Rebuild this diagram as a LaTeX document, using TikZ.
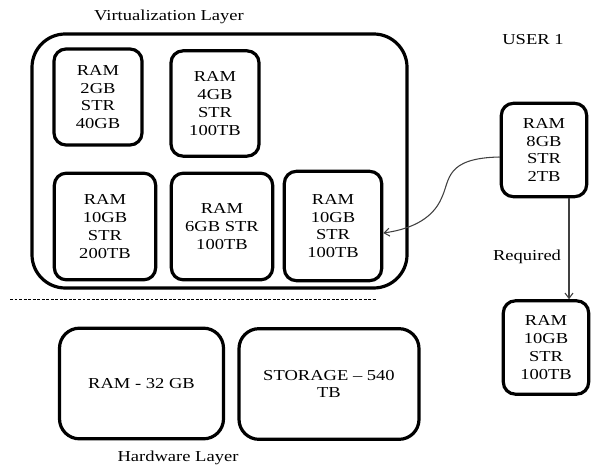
\documentclass[tikz,border=0pt]{standalone}
\usepackage{fontspec}
\setmainfont[FakeStretch=1.22]{Liberation Serif}
\usetikzlibrary{arrows.meta}
\begin{document}
\begin{tikzpicture}[x=0.75pt,y=-0.75pt,
  every node/.style={font=\fontsize{11.4pt}{13.3pt}\selectfont, align=center, inner sep=0pt},
  vmbox/.style={draw, line width=2.4pt, rounded corners=9pt},
  hwbox/.style={draw, line width=2.4pt, rounded corners=15pt},
  link/.style={draw=black!75, line width=0.8pt, -{Straight Barb[length=4pt,width=6pt]}}]
  \useasboundingbox (0,0) rectangle (591,470);

  % virtualization layer frame
  \draw[line width=2.4pt, rounded corners=25pt] (32,34) rectangle (407,288);
  \node (vtitle) at (169,17) {Virtualization Layer};
  \node (user) at (533,40) {USER 1};

  % virtual machines
  \node[vmbox, minimum width=66pt, minimum height=72pt] (vm1) at (98,97) {RAM\\2GB\\STR\\40GB};
  \node[vmbox, minimum width=66pt, minimum height=79pt] (vm2) at (215,103.5) {RAM\\4GB\\STR\\100TB};
  \node[vmbox, minimum width=76pt, minimum height=80pt] (vm3) at (105,226.5) {RAM\\10GB\\STR\\200TB};
  \node[vmbox, minimum width=76pt, minimum height=80pt] (vm4) at (222,226.5) {RAM\\6GB STR\\100TB};
  \node[vmbox, minimum width=73pt, minimum height=82pt] (vm5) at (333,226) {RAM\\10GB\\STR\\100TB};

  % user request boxes
  \node[vmbox, minimum width=64pt, minimum height=70pt] (req) at (544,150) {RAM\\8GB\\STR\\2TB};
  \node[vmbox, minimum width=64pt, minimum height=70pt] (need) at (546,347.5) {RAM\\10GB\\STR\\100TB};

  % separator between layers
  \coordinate (sepL) at (10,299);
  \coordinate (sepR) at (377,299);
  \draw[line width=0.6pt, dash pattern=on 2.2pt off 1.2pt] (sepL) -- (sepR);

  % hardware layer
  \node[hwbox, minimum width=123pt, minimum height=83pt] (ram) at (141.5,383.5) {RAM - 32 GB};
  \node[hwbox, minimum width=135pt, minimum height=83pt] (sto) at (329,384) {STORAGE – 540\\TB};
  \node (htitle) at (178,458) {Hardware Layer};

  % connectors
  \draw[link] (req.west |- 0,157) .. controls (445,158) and (450,180) .. (442,197)
     .. controls (432,222) and (405,230) .. (vm5.east |- 0,233);
  \draw[link] (req.south -| 569,0) -- (need.north -| 569,0);
  \node (reqlabel) at (527,257) {Required};
\end{tikzpicture}
\end{document}
